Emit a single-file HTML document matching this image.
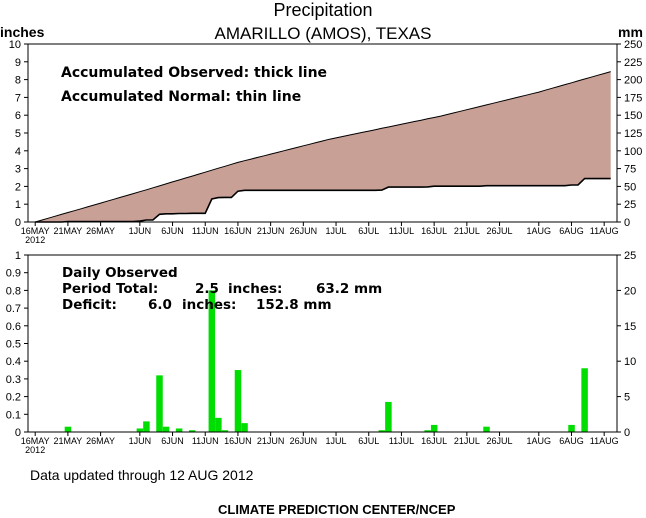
<!DOCTYPE html>
<html><head><meta charset="utf-8"><style>
body{margin:0;background:#fff;width:646px;height:518px;overflow:hidden}
svg{display:block;font-family:"Liberation Sans",sans-serif}
</style></head><body>
<svg id="c" width="646" height="518" viewBox="0 0 646 518">
<text x="323" y="16" font-size="18" text-anchor="middle">Precipitation</text>
<text x="323" y="39" font-size="17" text-anchor="middle">AMARILLO (AMOS), TEXAS</text>
<text x="0" y="37" font-size="14" font-weight="bold">inches</text>
<text x="618" y="37" font-size="14" font-weight="bold">mm</text>
<text x="61" y="77" font-size="14" font-weight="bold" font-family="DejaVu Sans">Accumulated Observed: thick line</text>
<text x="61" y="101" font-size="14" font-weight="bold" font-family="DejaVu Sans">Accumulated Normal: thin line</text>
<g id="gBot"></g>
<g font-size="13.5" font-weight="bold" font-family="DejaVu Sans">
<text x="62" y="277">Daily Observed</text>
<text x="62" y="293">Period Total:</text><text x="195" y="293">2.5</text><text x="228" y="293">inches:</text><text x="316" y="293">63.2 mm</text>
<text x="62" y="309">Deficit:</text><text x="148" y="309">6.0</text><text x="182" y="309">inches:</text><text x="256" y="309">152.8 mm</text>
</g>
<text x="30" y="480" font-size="14">Data updated through 12 AUG 2012</text>
<text x="218" y="514" font-size="13" font-weight="bold">CLIMATE PREDICTION CENTER/NCEP</text>
<g id="gTop"></g>
</svg>
<script>
const barDays=[5,16,17,19,20,22,24,27,28,29,31,32,53,54,60,61,69,82,84];
const barVals=[0.03,0.02,0.06,0.32,0.03,0.02,0.01,0.80,0.08,0.01,0.35,0.05,0.01,0.17,0.01,0.04,0.03,0.04,0.36];
const normDays=[0,16,31,45,62,77,88];
const normVals=[0,1.7,3.35,4.65,5.95,7.3,8.45];
const tickDays=[0,5,10,16,21,26,31,36,41,46,51,56,61,66,71,77,82,87];
const tickLabels=["16MAY","21MAY","26MAY","1JUN","6JUN","11JUN","16JUN","21JUN","26JUN","1JUL","6JUL","11JUL","16JUL","21JUL","26JUL","1AUG","6AUG","11AUG"];
const lastDay=88;
const NS="http://www.w3.org/2000/svg";
const L=28,R=617,T1=44,B1=222,T2=255,B2=432;
const xs=d=>35.2+d*6.54;
const y1=v=>B1-(B1-T1)*v/10;
const y2=v=>B2-(B2-T2)*v/1;
function mk(p,tag,a){const e=document.createElementNS(NS,tag);for(const k in a)e.setAttribute(k,a[k]);p.appendChild(e);return e;}
function norm(d){for(let i=1;i<normDays.length;i++){if(d<=normDays[i]){const t=(d-normDays[i-1])/(normDays[i]-normDays[i-1]);return normVals[i-1]+t*(normVals[i]-normVals[i-1]);}}return normVals[normVals.length-1];}
const gTop=document.getElementById('gTop'),gBot=document.getElementById('gBot');
const obs=[];let s=0;for(let d=0;d<=lastDay;d++){const i=barDays.indexOf(d);if(i>=0)s+=barVals[i];obs.push(s);}
let np=[],op=[];
for(let d=0;d<=lastDay;d++){np.push(xs(d).toFixed(1)+","+y1(norm(d)).toFixed(1));op.push(xs(d).toFixed(1)+","+y1(obs[d]).toFixed(1));}
let e=mk(gTop,'polygon',{points:np.concat(op.slice().reverse()).join(' '),fill:'#c8a096',stroke:'none'});


e=mk(gTop,'polyline',{points:np.join(' '),fill:'none',stroke:'#000','stroke-width':1});


e=mk(gTop,'polyline',{points:op.join(' '),fill:'none',stroke:'#000','stroke-width':1.6});


barDays.forEach((d,i)=>{const b=mk(gBot,'rect',{x:xs(d)-3.2,y:y2(barVals[i]),width:6.5,height:B2-y2(barVals[i]),fill:'#00dd00'});

});
function axes(g,T,B,lt,rt,name){
 mk(g,'polyline',{points:`${L},${T} ${R},${T} ${R},${B} ${L},${B} ${L},${T}`,fill:'none',stroke:'#000','stroke-width':1});
 lt.forEach((v,i)=>{const yy=B-(B-T)*i/(lt.length-1);mk(g,'line',{x1:L-4,x2:L,y1:yy,y2:yy,stroke:'#000'});
  const t=mk(g,'text',{x:L-7,y:yy+4,'font-size':11,'text-anchor':'end'});t.textContent=v;
  
  });
 rt.forEach((v,i)=>{const yy=B-(B-T)*i/(rt.length-1);mk(g,'line',{x1:R,x2:R+4,y1:yy,y2:yy,stroke:'#000'});
  const t=mk(g,'text',{x:R+7,y:yy+4,'font-size':11});t.textContent=v;
  
  });
 tickDays.forEach((d,i)=>{const xx=xs(d);mk(g,'line',{x1:xx,x2:xx,y1:B,y2:B+4,stroke:'#000'});
  const t=mk(g,'text',{x:xx,y:B+12,'font-size':9,'text-anchor':'middle'});t.textContent=tickLabels[i];
  
  });
 const yr=mk(g,'text',{x:xs(0),y:B+21,'font-size':9,'text-anchor':'middle'});yr.textContent='2012';
 
 
}
axes(gTop,T1,B1,[0,1,2,3,4,5,6,7,8,9,10],[0,25,50,75,100,125,150,175,200,225,250],'top');
axes(gBot,T2,B2,[0,0.1,0.2,0.3,0.4,0.5,0.6,0.7,0.8,0.9,1],[0,5,10,15,20,25],'bottom');
</script>
</body></html>
